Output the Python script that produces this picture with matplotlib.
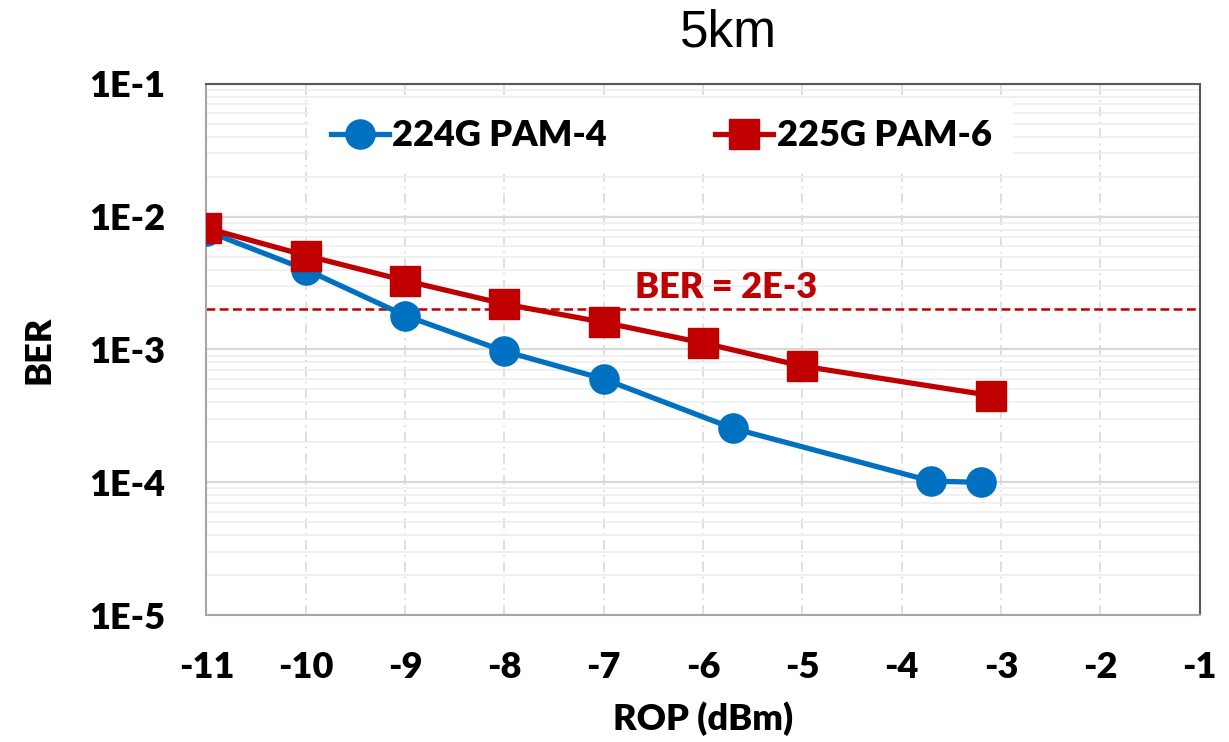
import numpy as np
import matplotlib.pyplot as plt
from matplotlib.ticker import LogLocator, FixedLocator, NullFormatter

plt.rcParams['font.family'] = ['Lato', 'DejaVu Sans']

# measured BER vs received optical power
rop_pam4 = [-11, -10, -9, -8, -7, -5.7, -3.7, -3.2]
ber_pam4 = [7.8e-3, 4.0e-3, 1.8e-3, 9.7e-4, 6.0e-4, 2.55e-4, 1.02e-4, 1.0e-4]

rop_pam6 = [-11, -10, -9, -8, -7, -6, -5, -3.1]
ber_pam6 = [8.2e-3, 5.1e-3, 3.3e-3, 2.2e-3, 1.6e-3, 1.12e-3, 7.5e-4, 4.5e-4]

ber_limit = 2e-3
xticks = list(range(-11, 0))
yticks = [1e-5, 1e-4, 1e-3, 1e-2, 1e-1]
ytick_labels = ['1E-5', '1E-4', '1E-3', '1E-2', '1E-1']

blue = '#0070C0'
red = '#C00000'
fs = 26
fw = 'heavy'

fig = plt.figure(figsize=(12.29, 7.42), dpi=100)
ax = fig.add_axes([0.168, 0.171, 0.808, 0.716])

ax.set_yscale('log')
ax.set_xlim(-11, -1)
ax.set_ylim(1e-5, 1e-1)

# grid
ax.yaxis.set_major_locator(FixedLocator(yticks))
ax.yaxis.set_minor_locator(LogLocator(base=10, subs=np.arange(2, 10)))
ax.yaxis.set_minor_formatter(NullFormatter())
ax.set_xticks(xticks)
ax.grid(which='major', axis='y', color='#D9D9D9', lw=1.6)
ax.grid(which='minor', axis='y', color='#EDEDED', lw=1.2)
ax.grid(which='major', axis='x', color='#D9D9D9', lw=1.2, dashes=(6, 3, 1, 3))
ax.set_axisbelow(True)

ax.axhline(ber_limit, color=red, lw=1.8, dashes=(3.5, 1.8), zorder=2)
ax.text(-6.68, ber_limit * 1.1, 'BER = 2E-3', color=red, fontsize=fs,
        fontweight=fw, va='bottom', ha='left')

ax.plot(rop_pam4, ber_pam4, '-o', color=blue, lw=3.8, ms=21, label='224G PAM-4', zorder=3)
ax.plot(rop_pam6, ber_pam6, '-s', color=red, lw=3.8, ms=21, label='225G PAM-6', zorder=4)

ax.set_yticklabels(ytick_labels)
ax.set_xticklabels([str(v) for v in xticks])
ax.tick_params(which='both', length=0)
ax.tick_params(axis='y', pad=30, labelsize=fs)
ax.tick_params(axis='x', pad=26, labelsize=fs)
for lab in ax.get_xticklabels() + ax.get_yticklabels():
    lab.set_fontweight(fw)

for side in ['left', 'bottom']:
    ax.spines[side].set_color('#A6A6A6')
    ax.spines[side].set_linewidth(1.5)
for side in ['top', 'right']:
    ax.spines[side].set_color('#595959')
    ax.spines[side].set_linewidth(1.5)

ax.set_xlabel('ROP (dBm)', fontsize=fs, fontweight=fw, labelpad=12)
ax.set_ylabel('BER', fontsize=fs, fontweight=fw, labelpad=24)

leg = ax.legend(loc='center', bbox_to_anchor=(0.458, 0.902), ncol=2, frameon=True,
                fancybox=False, edgecolor='none', facecolor='white', framealpha=1,
                handlelength=1.6, handletextpad=0.1, columnspacing=3.0,
                prop={'size': fs, 'weight': fw}, borderpad=0.6)

fig.text(0.593, 0.955, '5km', fontsize=37, family='Liberation Sans',
         ha='center', va='center')

fig.savefig('out.png', dpi=100)
